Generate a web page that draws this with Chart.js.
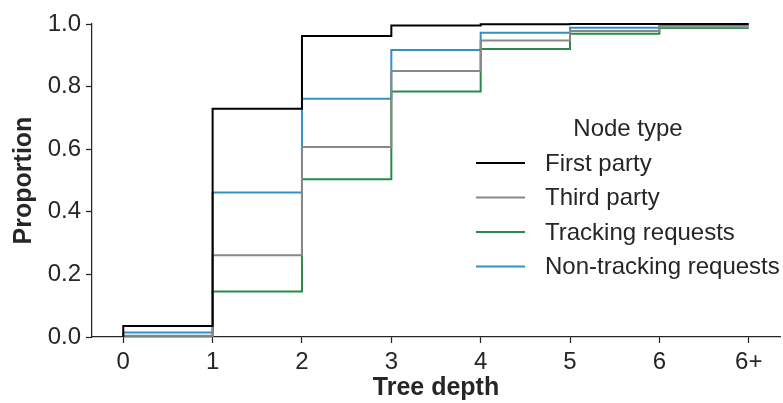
<!DOCTYPE html>
<html>
<head>
<meta charset="utf-8">
<script src="https://cdn.jsdelivr.net/npm/chart.js@4/dist/chart.umd.min.js"></script>
<style>
html,body{margin:0;padding:0;background:#fff;}
#wrap{width:783px;height:403px;position:relative;}
</style>
</head>
<body>
<div id="wrap"><canvas id="c" width="783" height="403"></canvas></div>
<script>
const depthLabels = ['0','1','2','3','4','5','6','6+'];
const yTicks = [0, 0.2, 0.4, 0.6, 0.8, 1.0];
const seriesNames = ['First party','Third party','Tracking requests','Non-tracking requests'];
const firstParty  = [0.035, 0.729, 0.962, 0.995, 0.999, 1.000, 1.000, 1.000];
const thirdParty  = [0.004, 0.261, 0.607, 0.850, 0.947, 0.978, 0.990, 0.990];
const tracking    = [0.002, 0.145, 0.504, 0.784, 0.920, 0.969, 0.987, 0.987];
const nonTracking = [0.014, 0.462, 0.761, 0.917, 0.972, 0.988, 0.995, 0.995];
const colors = ['#000000','#888888','#2a8a48','#3590c8'];

const TXT = '#262626';
const FONT = '"Liberation Sans", Arial, sans-serif';

function toPoints(vals){
  const pts = [{x:0, y:0}];
  vals.forEach((v,i)=>pts.push({x:i, y:v}));
  return pts;
}
const allSeries = [firstParty, thirdParty, tracking, nonTracking];

const legendPlugin = {
  id: 'customLegend',
  afterDraw(chart){
    const ctx = chart.ctx;
    ctx.save();
    ctx.fillStyle = TXT;
    ctx.font = '24px ' + FONT;
    ctx.textAlign = 'center';
    ctx.textBaseline = 'middle';
    ctx.fillText('Node type', 628, 129);
    ctx.textAlign = 'left';
    chart.data.datasets.forEach((ds,i)=>{
      const y = 163 + i*34.5;
      ctx.strokeStyle = ds.borderColor;
      ctx.lineWidth = 2;
      ctx.beginPath();
      ctx.moveTo(476, y);
      ctx.lineTo(525, y);
      ctx.stroke();
      ctx.fillStyle = TXT;
      ctx.fillText(ds.label, 545, y+1);
    });
    ctx.restore();
  }
};

new Chart(document.getElementById('c'), {
  type: 'line',
  data: {
    datasets: allSeries.map((vals,i)=>({
      label: seriesNames[i],
      data: toPoints(vals),
      borderColor: colors[i],
      backgroundColor: colors[i],
      borderWidth: 2,
      pointRadius: 0,
      stepped: 'before',
      fill: false,
      clip: false
    }))
  },
  options: {
    responsive: false,
    animation: false,
    devicePixelRatio: 1,
    layout: { padding: { top: 24, right: 3, left: 9, bottom: 0 } },
    plugins: { legend: { display: false }, tooltip: { enabled: false } },
    scales: {
      x: {
        type: 'linear',
        min: -0.35, max: 7.35,
        afterBuildTicks(scale){ scale.ticks = depthLabels.map((l,i)=>({value:i})); },
        afterFit(scale){ scale.height = 66; },
        ticks: {
          callback: (v)=> depthLabels[v],
          color: TXT,
          font: { family: FONT, size: 24 },
          padding: 5,
          maxRotation: 0,
          autoSkip: false
        },
        grid: { display: true, drawOnChartArea: false, drawTicks: true, tickLength: 6, tickColor: TXT, tickWidth: 1.25 },
        border: { display: true, color: TXT, width: 1.25 },
        title: { display: true, text: 'Tree depth', color: TXT, font: { family: FONT, size: 25, weight: 'bold' }, padding: { top: 2, bottom: 0 } }
      },
      y: {
        type: 'linear',
        min: 0, max: 1,
        afterBuildTicks(scale){ scale.ticks = yTicks.map(v=>({value:v})); },
        afterFit(scale){ scale.width = 83; },
        ticks: {
          callback: (v)=> v.toFixed(1),
          color: TXT,
          font: { family: FONT, size: 24 },
          padding: 5
        },
        grid: { display: true, drawOnChartArea: false, drawTicks: true, tickLength: 6, tickColor: TXT, tickWidth: 1.25 },
        border: { display: true, color: TXT, width: 1.25 },
        title: { display: true, text: 'Proportion', color: TXT, font: { family: FONT, size: 25, weight: 'bold' }, padding: { top: 0, bottom: 4 } }
      }
    }
  },
  plugins: [legendPlugin]
});
</script>
</body>
</html>
